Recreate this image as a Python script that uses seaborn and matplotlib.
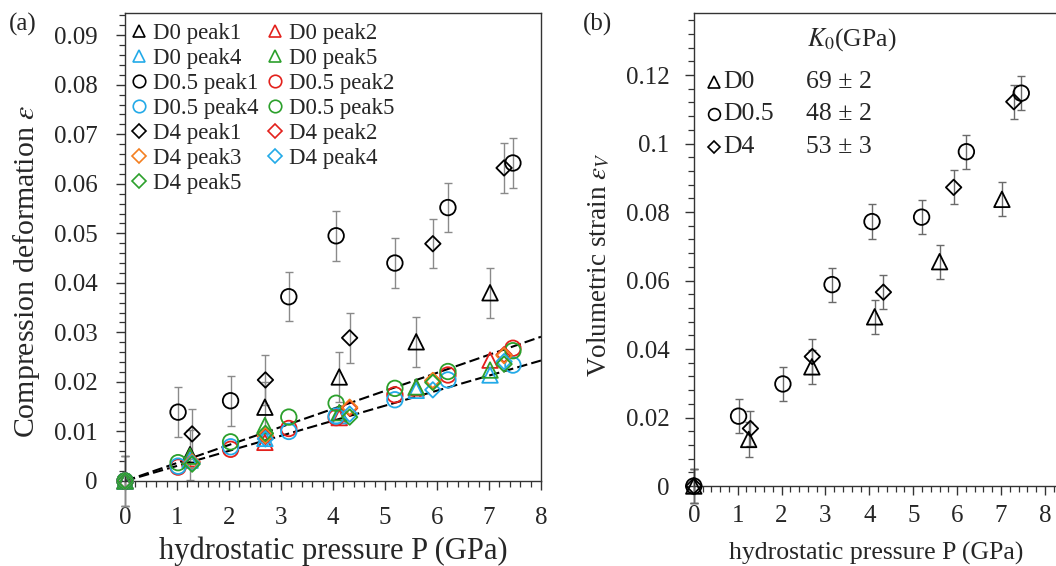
import numpy as np
import pandas as pnd
import seaborn as sns
import matplotlib.pyplot as plt
from matplotlib.lines import Line2D
from matplotlib.ticker import MultipleLocator, FormatStrFormatter

# pressures (GPa) for each sample
P_D0 = [0, 1.25, 2.69, 4.12, 5.60, 7.02]
P_D05 = [0, 1.02, 2.03, 3.15, 4.06, 5.19, 6.21, 7.46]
P_D4 = [0, 1.29, 2.70, 4.32, 5.92, 7.29]

# (a) compression deformation per peak
D0_peak1 = [0, 0.0053, 0.0149, 0.0210, 0.0281, 0.0380]
D0_peak2 = [0, 0.0045, 0.0078, 0.0128, 0.0188, 0.0244]
D0_peak4 = [0, 0.0042, 0.0086, 0.0132, 0.0183, 0.0214]
D0_peak5 = [0, 0.0050, 0.0112, 0.0138, 0.0190, 0.0224]
D05_peak1 = [0, 0.0139, 0.0162, 0.0372, 0.0495, 0.0440, 0.0552, 0.0642]
D05_peak2 = [0, 0.0028, 0.0064, 0.0106, 0.0128, 0.0174, 0.0214, 0.0268]
D05_peak4 = [0, 0.0030, 0.0069, 0.0100, 0.0131, 0.0164, 0.0204, 0.0234]
D05_peak5 = [0, 0.0037, 0.0079, 0.0129, 0.0157, 0.0187, 0.0221, 0.0263]
D4_peak1 = [0, 0.0095, 0.0204, 0.0289, 0.0479, 0.0632]
D4_peak2 = [0, 0.0038, 0.0090, 0.0147, 0.0202, 0.0255]
D4_peak3 = [0, 0.0038, 0.0092, 0.0149, 0.0203, 0.0253]
D4_peak4 = [0, 0.0036, 0.0085, 0.0135, 0.0184, 0.0241]
D4_peak5 = [0, 0.0034, 0.0096, 0.0129, 0.0199, 0.0236]
err_eps = 0.005

# linear fits (slope per GPa) of the dashed lines
fit_slopes = [0.00364, 0.00304]
fit_P = [0, 8]

# (b) volumetric strain
eV_D0 = [0, 0.0136, 0.0348, 0.0494, 0.0655, 0.0837]
eV_D05 = [0, 0.0204, 0.0298, 0.0588, 0.0772, 0.0785, 0.0976, 0.1147]
eV_D4 = [0, 0.0168, 0.0378, 0.0566, 0.0872, 0.1122]
err_eV = 0.005
samples = ["D0", "D0.5", "D4"]
K0_text = ["69 ± 2", "48 ± 2", "53 ± 3"]

sns.set_theme(style="ticks")
plt.rcParams['font.family'] = ['Liberation Serif', 'DejaVu Serif']
plt.rcParams['mathtext.fontset'] = 'stix'

cols = {1: 'black', 2: '#e3211c', 3: '#f47f20', 4: '#23aae8', 5: '#2ca02c'}
mk = {"D0": '^', "D0.5": 'o', "D4": 'D'}
msize = {'^': 125, 'o': 125, 'D': 62}

series = [
    ("D0", 1, P_D0, D0_peak1), ("D0", 2, P_D0, D0_peak2),
    ("D0", 4, P_D0, D0_peak4), ("D0", 5, P_D0, D0_peak5),
    ("D0.5", 1, P_D05, D05_peak1), ("D0.5", 2, P_D05, D05_peak2),
    ("D0.5", 4, P_D05, D05_peak4), ("D0.5", 5, P_D05, D05_peak5),
    ("D4", 1, P_D4, D4_peak1), ("D4", 2, P_D4, D4_peak2),
    ("D4", 3, P_D4, D4_peak3), ("D4", 4, P_D4, D4_peak4),
    ("D4", 5, P_D4, D4_peak5),
]

fig = plt.figure(figsize=(10.56, 5.66), dpi=100)
ax1 = fig.add_axes([0.1184, 0.1502, 0.3939, 0.827])
ax2 = fig.add_axes([0.657, 0.1413, 0.345, 0.8357])

# --- panel (a)
for s in fit_slopes:
    sns.lineplot(x=fit_P, y=[s * p for p in fit_P], ax=ax1, color='black',
                 lw=1.5, dashes=(5, 2), zorder=1)

handles = {}
for name, pk, P, eps in series:
    m = mk[name]
    if pk == 1:
        ax1.errorbar(P, eps, yerr=err_eps, fmt='none', ecolor='#8a8a8a',
                     elinewidth=1, capsize=3, zorder=2, clip_on=False)
    sns.scatterplot(x=P, y=eps, ax=ax1, marker=m, s=msize[m], facecolor='none',
                    edgecolor=cols[pk], linewidth=1.3, zorder=3, legend=False,
                    clip_on=False)
    handles[(name, pk)] = Line2D([], [], ls='none', marker=m, mfc='none',
                                 mec=cols[pk], mew=1.2,
                                 ms=7 if m == 'D' else 9)

# legend is filled column by column
order = [("D0", 1), ("D0", 4), ("D0.5", 1), ("D0.5", 4), ("D4", 1), ("D4", 3),
         ("D4", 5), ("D0", 2), ("D0", 5), ("D0.5", 2), ("D0.5", 5), ("D4", 2),
         ("D4", 4)]
ax1.legend([handles[k] for k in order], [f"{k[0]} peak{k[1]}" for k in order],
           ncol=2, loc='upper left', bbox_to_anchor=(0.012, 0.978),
           frameon=False, fontsize=16.5, handlelength=0.8, handletextpad=0.22,
           columnspacing=0.3, labelspacing=0.17, borderaxespad=0, borderpad=0)

ax1.set_xlim(0, 8)
ax1.set_ylim(0, 0.0945)
ax1.xaxis.set_major_locator(MultipleLocator(1))
ax1.xaxis.set_minor_locator(MultipleLocator(0.2))
ax1.yaxis.set_major_locator(MultipleLocator(0.01))
ax1.yaxis.set_minor_locator(MultipleLocator(0.002))
ax1.yaxis.set_major_formatter(FormatStrFormatter('%g'))
ax1.set_xlabel("hydrostatic pressure P (GPa)", fontsize=22)
ax1.set_ylabel(r"Compression deformation $\varepsilon$", fontsize=21.5)
ax1.xaxis.label.set_va('center')
ax1.yaxis.label.set_va('center')
ax1.xaxis.set_label_coords(0.5, -0.15)
ax1.yaxis.set_label_coords(-0.238, 0.447)
ax1.tick_params(axis='x', which='major', pad=12)
ax1.tick_params(axis='y', which='major', pad=13)

# --- panel (b)
for name, P, ev in [("D0", P_D0, eV_D0), ("D0.5", P_D05, eV_D05), ("D4", P_D4, eV_D4)]:
    m = mk[name]
    ax2.errorbar(P, ev, yerr=err_eV, fmt='none', ecolor='#6a6a6a',
                 elinewidth=1, capsize=3, zorder=2, clip_on=False)
    sns.scatterplot(x=P, y=ev, ax=ax2, marker=m, s=msize[m], facecolor='none',
                    edgecolor='black', linewidth=1.3, zorder=3, legend=False,
                    clip_on=False)

ax2.set_xlim(0, 8.3)
ax2.set_ylim(0, 0.1381)
ax2.xaxis.set_major_locator(MultipleLocator(1))
ax2.xaxis.set_minor_locator(MultipleLocator(0.2))
ax2.yaxis.set_major_locator(MultipleLocator(0.02))
ax2.yaxis.set_minor_locator(MultipleLocator(0.004))
ax2.yaxis.set_major_formatter(FormatStrFormatter('%g'))
ax2.set_xlabel("hydrostatic pressure P (GPa)", fontsize=18.5)
ax2.set_ylabel(r"Volumetric strain $\varepsilon_V$", fontsize=19.5)
ax2.xaxis.label.set_va('center')
ax2.yaxis.label.set_va('center')
ax2.xaxis.set_label_coords(0.5, -0.142)
ax2.yaxis.set_label_coords(-0.261, 0.468)
ax2.tick_params(axis='x', which='major', pad=7)
ax2.tick_params(axis='y', which='major', pad=11)

ax2.text(0.31, 0.943, r"$K_{\mathit{0}}$(GPa)", transform=ax2.transAxes,
         fontsize=18.5, va='center')
for i, (name, k) in enumerate(zip(samples, K0_text)):
    yy = 0.854 - i * 0.0685
    ax2.plot([0.055], [yy], transform=ax2.transAxes, ls='none', marker=mk[name],
             mfc='none', mec='black', mew=1.2, ms=6.5 if mk[name] == 'D' else 8.5)
    ax2.text(0.08, yy, name, transform=ax2.transAxes, fontsize=18.5, va='center')
    ax2.text(0.308, yy, k, transform=ax2.transAxes, fontsize=18.5, va='center')

for ax in (ax1, ax2):
    ax.tick_params(which='major', direction='out', length=6.5, width=1,
                   labelsize=18, color='#333333')
    ax.tick_params(which='minor', direction='out', length=4.5, width=0.9,
                   color='#333333')
    for sp in ax.spines.values():
        sp.set_visible(True)
        sp.set_color('#333333')
        sp.set_linewidth(1)

fig.text(23 / 1056, 1 - 24 / 566, "(a)", fontsize=18, ha='center', va='center')
fig.text(598 / 1056, 1 - 24 / 566, "(b)", fontsize=18, ha='center', va='center')

fig.savefig("out.png", dpi=100)
